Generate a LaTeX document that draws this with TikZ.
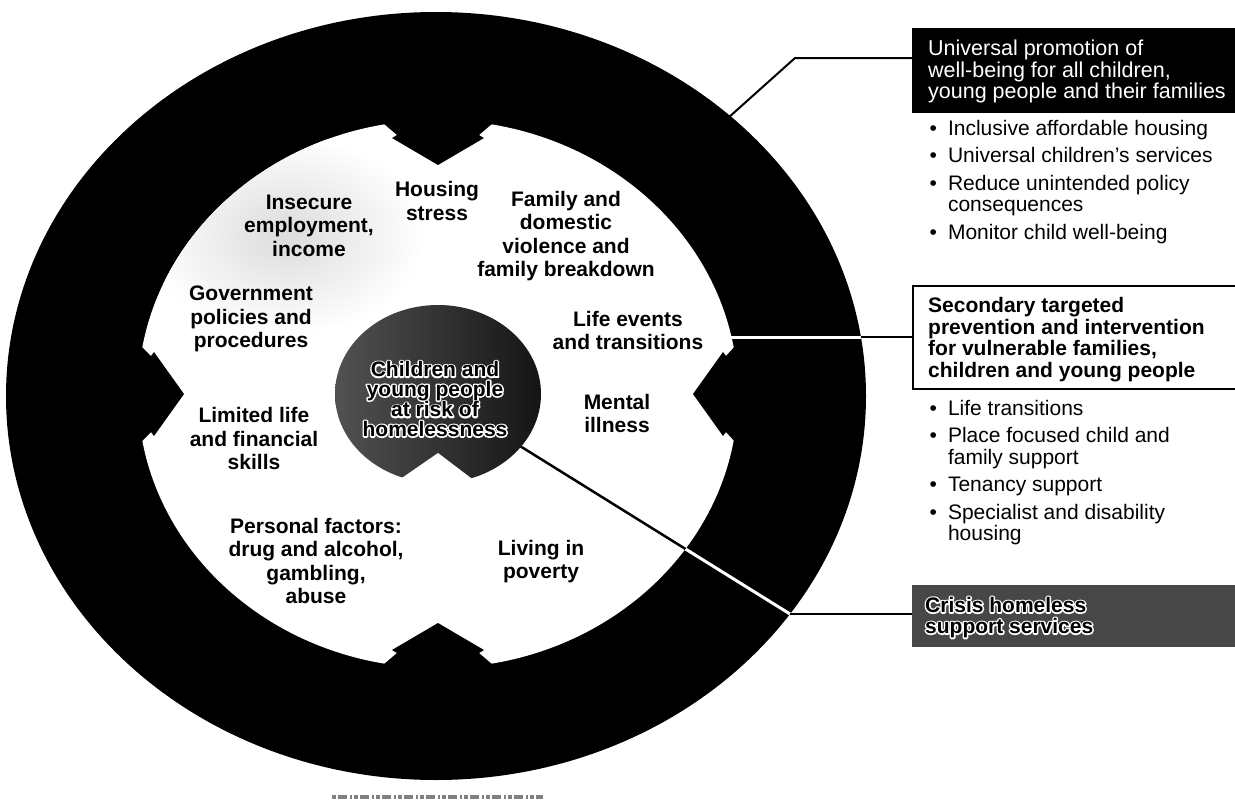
\documentclass[tikz,border=0pt]{standalone}
\usepackage{fontspec}
\setmainfont{Liberation Sans}
\newcommand\strokeon{\special{pdf:literal direct 1 Tr 3 w 1 j 1 J}}
\newcommand\strokeoff{\special{pdf:literal direct 0 Tr}}
\newcommand\halonode[4]{%
  \node[#2,text=white] (#1-halo) at #3 {\strokeon #4\strokeoff};%
  \node[#2] (#1) at #3 {#4};}
\begin{document}
\begin{tikzpicture}[x=1pt,y=-1pt,
  lbl/.style={align=center,inner sep=0pt,font=\fontsize{21}{23.5}\selectfont\bfseries},
  blbl/.style={align=center,inner sep=0pt,font=\fontsize{21}{19.5}\selectfont\bfseries},
  boxbase/.style={inner sep=0pt,anchor=north west,minimum width=323pt},
  utext/.style={align=left,inner sep=0pt,anchor=west,text=white,font=\fontsize{21.5}{21.5}\selectfont},
  stext/.style={align=left,inner sep=0pt,anchor=west,font=\fontsize{21}{21.7}\selectfont\bfseries},
  ctext/.style={align=left,inner sep=0pt,anchor=west,font=\fontsize{21}{21}\selectfont\bfseries},
  blist/.style={inner sep=0pt,anchor=north west,font=\fontsize{21}{21.7}\selectfont},
  conn/.style={draw=black,line width=2pt},
  wline/.style={draw=white,line width=3pt},
  bline/.style={draw=black,line width=2.5pt},
  ringfill/.style={fill=black},
  arrowfill/.style={fill=black},
]
\useasboundingbox (0,0) rectangle (1235,809);

% ---- boxes on the right
\node[boxbase,fill=black,minimum height=85pt] (univ) at (912,28) {};
\node[boxbase,draw=black,line width=1.5pt,fill=white,minimum height=103pt] (sec) at (912,285) {};
\node[boxbase,fill=black!72,minimum height=62pt] (crisis) at (912,585) {};

% ---- connector coordinates
\coordinate (us) at (728,118);
\coordinate (ue) at (795,58);
\coordinate (sw) at (700,337);
\coordinate (se) at (861,337);
\coordinate (bc) at (438,395);
\coordinate (cel) at (790,614);

% ---- outer ring
\path[ringfill] (436,396) ellipse [x radius=430pt, y radius=384pt];

% white lines across the ring
\begin{scope}
  \clip (436,396) ellipse [x radius=430pt, y radius=384pt];
  \draw[wline] (sw) -- (se);
  \draw[wline] (bc) -- (cel);
\end{scope}

% ---- inner white region
\fill[white] (438,394) ellipse [x radius=300pt, y radius=274pt];
% faint grey speckle cloud in the upper left
\begin{scope}
  \clip (438,394) ellipse [x radius=300pt, y radius=274pt];
  \shade[inner color=black!14,outer color=white] (285,235) ellipse [x radius=140pt, y radius=100pt];
\end{scope}

% arrows pointing inward
\path[arrowfill] (438,165) -- (392,138) -- (397,135) -- (383,123) -- (383,60) -- (493,60) -- (493,123) -- (479,135) -- (484,138) -- cycle;
\path[arrowfill] (438,623) -- (392,650) -- (397,653) -- (383,665) -- (383,730) -- (493,730) -- (493,665) -- (479,653) -- (484,650) -- cycle;
\path[arrowfill] (184,394) -- (154,352) -- (151,356) -- (139,344) -- (80,344) -- (80,444) -- (139,444) -- (151,432) -- (154,436) -- cycle;
\path[arrowfill] (693,394) -- (723,352) -- (726,356) -- (737,344) -- (800,344) -- (800,444) -- (737,444) -- (726,432) -- (723,436) -- cycle;

% black part of the crisis connector inside the white region
\begin{scope}
  \clip (438,394) ellipse [x radius=300pt, y radius=274pt];
  \draw[bline] (bc) -- (cel);
\end{scope}

% ---- central blob
\shade[left color=black!68,middle color=black!97,right color=black!92] (438,394) ellipse [x radius=103pt, y radius=89pt];
\fill[white] (438,453) -- (370,500) -- (500,500) -- cycle;

% ---- outside connectors
\draw[conn] (us) -- (ue) -- (ue -| univ.west);
\draw[conn] (se) -- (se -| sec.west);
\draw[conn,line width=2.7pt] (cel) -- (cel -| crisis.west);

% ---- labels in the circle
\node[lbl] (housing) at (437,201) {Housing\\stress};
\node[lbl] (insecure) at (309,225.5) {Insecure\\employment,\\income};
\node[lbl] (family) at (566,236) {Family and\\domestic\\violence and\\family breakdown};
\node[lbl] (govt) at (251,319) {Government\\policies and\\procedures};
\node[lbl] (life) at (628,330.5) {Life events\\and transitions};
\node[lbl] (mental) at (617,413.5) {Mental\\illness};
\node[lbl] (limited) at (254,438.5) {Limited life\\and financial\\skills};
\node[lbl] (personal) at (316,561) {Personal factors:\\drug and alcohol,\\gambling,\\abuse};
\node[lbl] (poverty) at (541,561.5) {Living in\\poverty};

\halonode{blobt}{blbl}{(435,399)}{Children and\\young people\\at risk of\\homelessness}

% ---- right side texts
\node[utext] (univt) at (928,71.5) {Universal promotion of\\well-being for all children,\\young people and their families};
\node[stext] (sect) at (928,339.5) {Secondary targeted\\prevention and intervention\\for vulnerable families,\\children and young people};
\halonode{crisist}{ctext}{(925,617.5)}{Crisis homeless\\support services}

\node[blist] (list1) at (929.5,120.3) {\begin{tabular}{@{}l@{\hspace{11pt}}l@{}}
\textbullet & Inclusive affordable housing\\[5.5pt]
\textbullet & Universal children's services\\[5.5pt]
\textbullet & Reduce unintended policy\\
 & consequences\\[5.5pt]
\textbullet & Monitor child well-being
\end{tabular}};
\node[blist] (list2) at (929.5,400.3) {\begin{tabular}{@{}l@{\hspace{11pt}}l@{}}
\textbullet & Life transitions\\[5.5pt]
\textbullet & Place focused child and\\
 & family support\\[5.5pt]
\textbullet & Tenancy support\\[5.5pt]
\textbullet & Specialist and disability\\
 & housing
\end{tabular}};

% ---- smudge below the ring
\draw[black!50,line width=4pt,dash pattern=on 4pt off 2pt on 9pt off 3pt on 2pt off 2pt] (332,797) -- (543,797);
\end{tikzpicture}
\end{document}
